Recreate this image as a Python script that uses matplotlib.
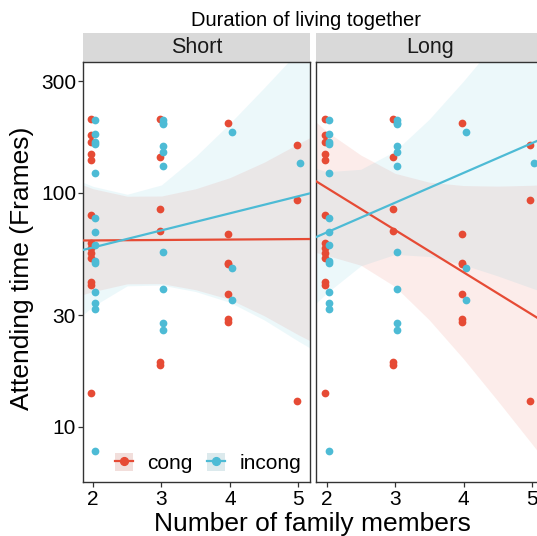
import numpy as np
import matplotlib.pyplot as plt
from matplotlib.patches import Patch, Rectangle
from matplotlib.lines import Line2D
from matplotlib.ticker import FixedLocator, NullLocator

plt.rcParams['font.family'] = ['Liberation Sans', 'DejaVu Sans']

# observed attending times (frames), same dots shown in both panels
cong_x = [2] * 13 + [3] * 6 + [4] * 7 + [5] * 3
cong_y = [206, 176, 164, 146, 138, 80, 61, 58, 55, 52.5, 41.5, 40.5, 14,
          206, 142.6, 85, 68.8, 18.9, 18.4,
          198, 66.8, 50.2, 49.6, 36.8, 29.0, 27.9,
          160, 92.8, 12.9]
incong_x = [2] * 14 + [3] * 10 + [4] * 3 + [5] * 1
incong_y = [204, 179, 165, 161, 121, 78, 68, 60, 51, 50, 37.7, 33.8, 31.8, 7.9,
            204.5, 199, 196, 159, 148.8, 130, 55.8, 38.8, 27.8, 25.9,
            181.6, 47.9, 34.8,
            134]

# fitted lines, values at the panel edges
edge_x = [1.85, 5.17]
short_cong_fit = [62.5, 63.4]
short_incong_fit = [56.9, 99.4]
long_cong_fit = [111.8, 28.1]
long_incong_fit = [64.7, 171.2]

# confidence bands
ci_x = [1.85, 2.0, 2.5, 3.0, 3.5, 4.0, 4.5, 5.0, 5.17]
short_cong_lo = [36.7, 37.8, 40.8, 40.9, 38.5, 35.0, 29.8, 24.7, 23.3]
short_cong_hi = [108, 104, 96.6, 96.8, 104, 116, 135, 162, 172]
short_incong_lo = [30.0, 32.7, 40.0, 40.3, 37.8, 34.0, 28.6, 23.2, 21.7]
short_incong_hi = [111, 106.5, 98.5, 108, 143, 198, 281, 403, 455]
long_cong_lo = [55.5, 54.0, 49.0, 39.7, 28.6, 19.5, 12.9, 8.44, 7.29]
long_cong_hi = [200, 183, 144.9, 121.0, 110.9, 107.3, 106.7, 107.6, 108.2]
long_incong_lo = [33.8, 37.2, 48.7, 54.5, 53.4, 49.2, 44.1, 39.1, 37.6]
long_incong_hi = [127, 122.9, 125.9, 150.7, 206.3, 300.4, 448.7, 678.8, 786]

panels = [
    ("Short", short_cong_fit, short_incong_fit,
     short_cong_lo, short_cong_hi, short_incong_lo, short_incong_hi),
    ("Long", long_cong_fit, long_incong_fit,
     long_cong_lo, long_cong_hi, long_incong_lo, long_incong_hi),
]

RED = "#E64B35"
BLUE = "#4DBBD5"
DODGE = {"cong": -0.025, "incong": 0.03}

fig = plt.figure(figsize=(5.37, 5.36), dpi=100)
lefts = [82.7 / 537, 316.3 / 537]
axes = []
for i, (name, cfit, ifit, clo, chi, ilo, ihi) in enumerate(panels):
    ax = fig.add_axes([lefts[i], 0.1013, 0.4233, 0.7825])
    axes.append(ax)

    ax.fill_between(ci_x, clo, chi, color=RED, alpha=0.1, lw=0, zorder=1)
    ax.fill_between(ci_x, ilo, ihi, color=BLUE, alpha=0.1, lw=0, zorder=1)

    ax.scatter(np.array(cong_x) + DODGE["cong"], cong_y, s=31, color=RED,
               linewidths=0, zorder=3)
    ax.scatter(np.array(incong_x) + DODGE["incong"], incong_y, s=31, color=BLUE,
               linewidths=0, zorder=3)

    ax.plot(edge_x, cfit, color=RED, lw=1.6, zorder=4)
    ax.plot(edge_x, ifit, color=BLUE, lw=1.6, zorder=4)

    ax.set_yscale("log")
    ax.set_xlim(1.85, 5.17)
    ax.set_ylim(5.82, 361)
    ax.xaxis.set_major_locator(FixedLocator([2, 3, 4, 5]))
    ax.set_xticklabels(["2", "3", "4", "5"])
    ax.yaxis.set_major_locator(FixedLocator([10, 30, 100, 300]))
    ax.yaxis.set_minor_locator(NullLocator())
    ax.tick_params(axis="both", which="major", labelsize=15, length=3.3,
                   width=0.9, color="#333333", labelcolor="black", pad=1.5)
    ax.tick_params(axis="x", pad=2.5)
    if i == 0:
        ax.set_yticklabels(["10", "30", "100", "300"])
    else:
        ax.tick_params(axis="y", left=False, labelleft=False)
    for sp in ax.spines.values():
        sp.set_color("#333333")
        sp.set_linewidth(1.0)

    # facet strip
    ax.add_patch(Rectangle((0, 1.0), 1, 0.0699, transform=ax.transAxes,
                           clip_on=False, facecolor="#D9D9D9", edgecolor="none"))
    ax.text(0.5, 1.035, name, transform=ax.transAxes, ha="center", va="center",
            fontsize=15.5, color="#1A1A1A")

handles = [
    (Patch(facecolor="#F2DEDB", edgecolor="none"),
     Line2D([], [], color=RED, lw=1.6, marker="o", markersize=5.6)),
    (Patch(facecolor="#DCEAED", edgecolor="none"),
     Line2D([], [], color=BLUE, lw=1.6, marker="o", markersize=5.6)),
]
axes[0].legend(handles, ["cong", "incong"], loc="center left",
               bbox_to_anchor=(0.141, 0.0446), ncol=2, frameon=False,
               fontsize=15, borderpad=0, borderaxespad=0, handlelength=0.87,
               handleheight=0.96, handletextpad=0.7, columnspacing=0.67)

fig.text(306 / 537, 1 - 26 / 536, "Duration of living together",
         ha="center", va="baseline", fontsize=14.5)
fig.text(312 / 537, 5 / 536, "Number of family members",
         ha="center", va="baseline", fontsize=19)
fig.text(0.041, 0.5, "Attending time (Frames)", rotation=90,
         ha="center", va="center", fontsize=19)

fig.savefig("out.png", dpi=100)
plt.close(fig)
